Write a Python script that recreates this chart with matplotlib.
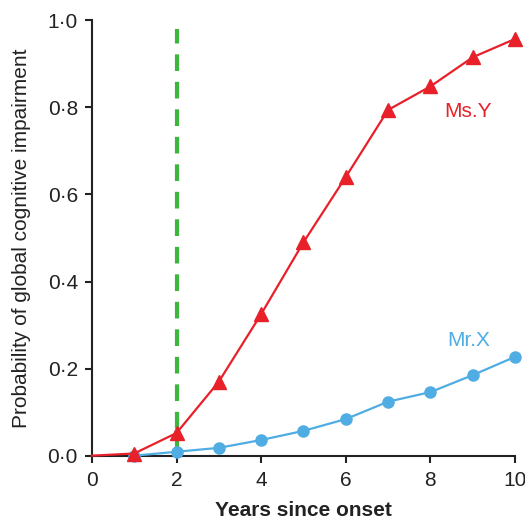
import matplotlib
matplotlib.use("Agg")
import matplotlib.pyplot as plt
from matplotlib.ticker import FuncFormatter

plt.rcParams['font.family'] = ['Liberation Sans', 'DejaVu Sans']

# data
years = [0, 1, 2, 3, 4, 5, 6, 7, 8, 9, 10]
ms_y = [0.0, 0.005, 0.052, 0.17, 0.325, 0.49, 0.64, 0.794, 0.848, 0.915, 0.957]
mr_x_years = [1, 2, 3, 4, 5, 6, 7, 8, 9, 10]
mr_x = [0.0, 0.009, 0.018, 0.036, 0.057, 0.084, 0.124, 0.146, 0.185, 0.227]
cutoff_year = 2
cutoff_top = 0.98

red = '#e8202a'
blue = '#50ade3'
green = '#3cb63c'

fig = plt.figure(figsize=(5.25, 5.19), dpi=100)
ax = fig.add_axes([0.175, 0.122, 0.806, 0.839])

ax.plot([cutoff_year, cutoff_year], [0, cutoff_top], color=green, lw=3,
        dashes=(4, 2.6), zorder=1)
ax.plot(mr_x_years, mr_x, color=blue, lw=1.6, marker='o', markersize=8,
        clip_on=False, zorder=3)
ax.plot(years, ms_y, color=red, lw=1.6, marker='^', markersize=9.5,
        markevery=list(range(1, len(years))), clip_on=False, zorder=4)

ax.text(8.9, 0.79, 'Ms.Y', color=red, fontsize=15, ha='center', va='center')
ax.text(8.9, 0.265, 'Mr.X', color=blue, fontsize=15, ha='center', va='center')

ax.set_xlim(0, 10)
ax.set_ylim(0, 1.0)
ax.set_xticks(range(0, 11, 2))
ax.set_yticks([0, 0.2, 0.4, 0.6, 0.8, 1.0])
ax.yaxis.set_major_formatter(FuncFormatter(lambda v, p: ('%.1f' % v).replace('.', '\u00b7')))

for s in ['top', 'right']:
    ax.spines[s].set_visible(False)
for s in ['left', 'bottom']:
    ax.spines[s].set_linewidth(1.5)
    ax.spines[s].set_color('#222222')
ax.tick_params(direction='out', length=5, width=1.5, labelsize=15, colors='#222222')
ax.tick_params(axis='x', pad=6)
ax.tick_params(axis='y', pad=5)

ax.set_xlabel('Years since onset', fontsize=15, fontweight='bold', color='#222222',
              labelpad=8)
ax.set_ylabel('Probability of global cognitive impairment', fontsize=15, color='#222222',
              labelpad=12)

fig.savefig('out.png', dpi=100)
